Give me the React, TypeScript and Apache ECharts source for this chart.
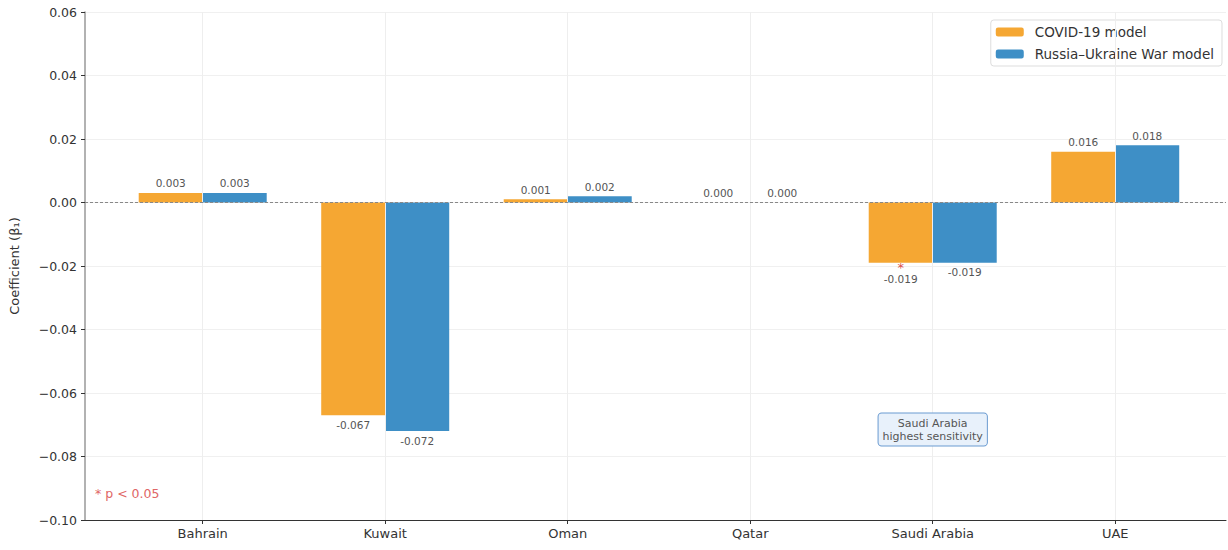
import React, { useEffect, useRef } from "react";
import * as echarts from "echarts";

const categories = ["Bahrain", "Kuwait", "Oman", "Qatar", "Saudi Arabia", "UAE"];
const covidValues = [0.003, -0.067, 0.001, 0.0, -0.019, 0.016];
const warValues = [0.003, -0.072, 0.002, 0.0, -0.019, 0.018];
const covidSignificant = [false, false, false, false, true, false];
const warSignificant = [false, false, false, false, false, false];
const yTicks = [-0.1, -0.08, -0.06, -0.04, -0.02, 0, 0.02, 0.04, 0.06];

const FONT = "DejaVu Sans";
const ORANGE = "#F5A733";
const BLUE = "#3E8FC6";

function fmtTick(v: number) {
  const s = Math.abs(v).toFixed(2);
  return v < -1e-9 ? "\u2212" + s : s;
}

function makeSeries(name: string, values: number[], sig: boolean[], color: string) {
  return {
    name,
    type: "bar",
    z: 3,
    barWidth: 64,
    barGap: "0%",
    itemStyle: { color },
    data: values.map((v, i) => ({
      value: [i, v],
      label: {
        show: true,
        position: v >= 0 ? "top" : "bottom",
        distance: sig[i] ? 0 : 4,
        formatter: sig[i] ? "{star|*}\n{val|" + v.toFixed(3) + "}" : v.toFixed(3),
        rich: {
          star: { color: "#d9534f", fontSize: 13, lineHeight: 10, fontFamily: FONT },
          val: { color: "#555", fontSize: 10.5, lineHeight: 13, fontFamily: FONT },
        },
      },
    })),
    label: { color: "#555", fontSize: 10.5, fontFamily: FONT },
  };
}

export default function App() {
  const ref = useRef<HTMLDivElement>(null);
  useEffect(() => {
    if (!ref.current) return;
    const chart = echarts.init(ref.current, null, { renderer: "svg" });
    const covid: any = makeSeries("COVID-19 model", covidValues, covidSignificant, ORANGE);
    const war: any = makeSeries("Russia\u2013Ukraine War model", warValues, warSignificant, BLUE);
    const gridSeries: any = {
      name: "grid",
      type: "line",
      z: 1,
      silent: true,
      data: [],
      markLine: {
        silent: true,
        symbol: "none",
        label: { show: false },
        data: categories.map((_, i) => ({ xAxis: i, lineStyle: { color: "#eeeeee", width: 1, type: "solid" } })),
      },
    };
    const zeroSeries: any = {
      name: "zero",
      type: "line",
      z: 4,
      silent: true,
      data: [],
      markLine: {
        silent: true,
        symbol: "none",
        label: { show: false },
        data: [{ yAxis: 0, lineStyle: { color: "#888", width: 1, type: [3, 2] } }],
      },
      markPoint: {
        silent: true,
        symbol: "rect",
        symbolSize: 1,
        itemStyle: { color: "rgba(0,0,0,0)" },
        data: [
          {
            coord: [4, -0.0715],
            label: {
              show: true,
              position: "inside",
              formatter: "Saudi Arabia\nhighest sensitivity",
              color: "#555",
              fontSize: 11,
              lineHeight: 13,
              fontFamily: FONT,
              backgroundColor: "#e8f1fb",
              borderColor: "#6a9bd1",
              borderWidth: 1,
              borderRadius: 3,
              padding: [3, 4],
              align: "center",
            },
          },
        ],
      },
    };
    chart.setOption({
      animation: false,
      textStyle: { fontFamily: FONT },
      grid: { left: 83, right: 2, top: 12, bottom: 30, containLabel: false },
      legend: {
        orient: "vertical",
        right: 6,
        top: 20,
        padding: [5, 8, 5, 5],
        borderColor: "#ddd",
        borderWidth: 1,
        borderRadius: 3,
        backgroundColor: "#fff",
        itemWidth: 28,
        itemHeight: 9,
        itemGap: 8,
        textStyle: { fontSize: 13.5, color: "#333", fontFamily: FONT, padding: [0, 0, 0, 6] },
        data: ["COVID-19 model", "Russia\u2013Ukraine War model"],
      },
      xAxis: {
        type: "value",
        min: -0.645,
        max: 5.607,
        splitLine: { show: false },
        axisLine: { show: true, onZero: false, lineStyle: { color: "#333", width: 1 } },
        axisTick: { show: true, customValues: [0, 1, 2, 3, 4, 5], length: 4, lineStyle: { color: "#333" } },
        axisLabel: {
          customValues: [0, 1, 2, 3, 4, 5],
          formatter: (v: number) => categories[Math.round(v)] ?? "",
          fontSize: 13,
          color: "#333",
          margin: 7,
          fontFamily: FONT,
        },
      },
      yAxis: {
        type: "value",
        min: yTicks[0],
        max: yTicks[yTicks.length - 1],
        interval: 0.02,
        name: "Coefficient (\u03b2\u2081)",
        nameLocation: "middle",
        nameGap: 64,
        nameTextStyle: { fontSize: 13, color: "#333", fontFamily: FONT },
        axisLine: { show: true, onZero: false, lineStyle: { color: "#999", width: 1.5 } },
        axisTick: { show: true, length: 4, lineStyle: { color: "#333" } },
        axisLabel: { formatter: fmtTick, fontSize: 12.5, color: "#333", margin: 8, fontFamily: FONT },
        splitLine: { show: true, lineStyle: { color: "#f0f0f0", width: 1 } },
      },
      graphic: [
        {
          type: "text",
          left: 95,
          top: 487,
          style: { text: "* p < 0.05", fill: "#e06666", fontSize: 12.5, fontFamily: FONT },
        },
      ],
      series: [gridSeries, covid, war, zeroSeries],
    });
    return () => chart.dispose();
  }, []);
  return (
    <div
      ref={ref}
      style={{ position: "fixed", left: 0, top: 0, width: 1228, height: 550, background: "#fff" }}
    />
  );
}
